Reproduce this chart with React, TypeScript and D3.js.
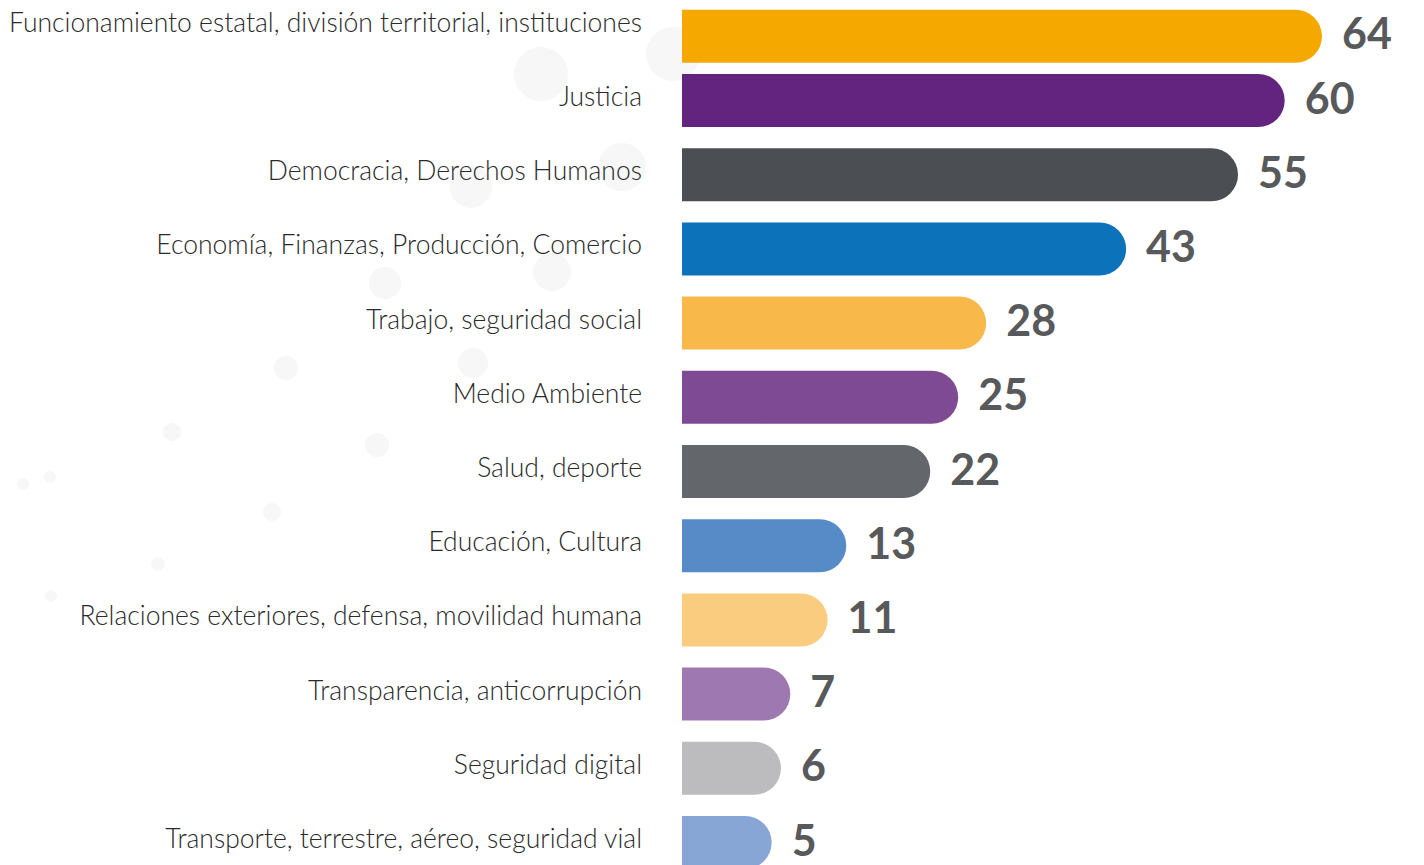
import React from "react";
import * as d3 from "d3";

const categories = [
  "Funcionamiento estatal, división territorial, instituciones",
  "Justicia",
  "Democracia, Derechos Humanos",
  "Economía, Finanzas, Producción, Comercio",
  "Trabajo, seguridad social",
  "Medio Ambiente",
  "Salud, deporte",
  "Educación, Cultura",
  "Relaciones exteriores, defensa, movilidad humana",
  "Transparencia, anticorrupción",
  "Seguridad digital",
  "Transporte, terrestre, aéreo, seguridad vial",
];
const values = [64, 60, 55, 43, 28, 25, 22, 13, 11, 7, 6, 5];
const colors = [
  "#F5A800", "#62247F", "#4B4F54", "#0C73BA", "#F8B84A", "#7E4A93",
  "#63666A", "#568BC7", "#FACC80", "#9D78B1", "#BCBCBE", "#87A6D5",
];
// decorative background dots: [x, y, r]
const dots: [number, number, number][] = [
  [673, 54, 27], [541, 74, 27], [622, 167, 24], [471, 187, 21], [552, 272, 19],
  [385, 283, 16], [473, 363, 15], [286, 368, 12], [172, 432, 9], [377, 445, 12],
  [50, 477, 6], [23, 484, 6], [272, 512, 9], [158, 564, 7], [51, 596, 6],
];

const W = 1424;
const H = 865;
const barX0 = 682;
const barH = 53;

export default function App() {
  const x = d3.scaleLinear().domain([0, 64]).range([725, 1322]);
  const y = d3
    .scaleBand<string>()
    .domain(categories)
    .range([-10.8, -10.8 + 74.2 * categories.length])
    .paddingInner(0)
    .paddingOuter(0);
  const step = y.step();
  const r = barH / 2;

  return (
    <svg
      width={W}
      height={H}
      style={{ position: "absolute", left: 0, top: 0, display: "block" }}
    >
      <rect width={W} height={H} fill="#ffffff" />
      {dots.map(([cx, cy, rr], i) => (
        <circle key={i} cx={cx} cy={cy} r={rr} fill="#f7f7f7" />
      ))}
      {categories.map((c, i) => {
        const cy = (y(c) as number) + step / 2;
        const by = cy + (i === 0 ? 10 : 0);
        const xe = x(values[i]);
        const top = by - barH / 2;
        const path = `M${barX0},${top} H${xe - r} A${r},${r} 0 0 1 ${xe - r},${top + barH} H${barX0} Z`;
        return (
          <g key={c}>
            <text
              x={642}
              y={cy + 5.5}
              textAnchor="end"
              fontFamily="'Lato Light', Lato, sans-serif"
              fontWeight={300}
              fontSize={26.5}
              fill="#2a2a2a"
            >
              {c}
            </text>
            <path d={path} fill={colors[i]} />
            <text
              x={xe + 20}
              y={by + 13}
              fontFamily="Lato, sans-serif"
              fontWeight={700}
              fontSize={43}
              fill="#58595B"
            >
              {values[i]}
            </text>
          </g>
        );
      })}
    </svg>
  );
}
